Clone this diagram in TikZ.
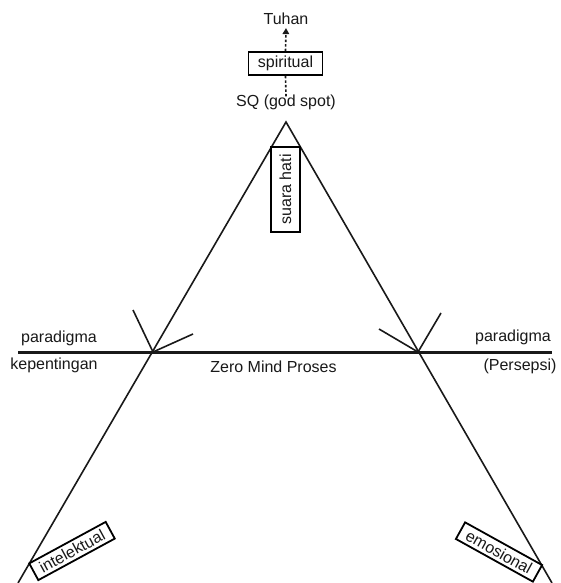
\documentclass[tikz,border=0pt]{standalone}
\usepackage{fontspec}
\setmainfont{Liberation Sans}
\usetikzlibrary{arrows.meta}
\begin{document}
\begin{tikzpicture}[x=1pt,y=-1pt,
  lbl/.style={font=\fontsize{16}{18}\selectfont, inner sep=0pt, text=black!90},
  boxed/.style={lbl, draw=black, line width=1.8pt, minimum height=22, inner sep=0pt},
  tri/.style={line width=1.6pt, black!90},
  thick line/.style={line width=3pt, black!90},
  dash line/.style={line width=1.6pt, dash pattern=on 2.5pt off 2pt, black!90}]
\useasboundingbox (0,0) rectangle (561,583);
\fill[white] (0,0) rectangle (561,583);
% coordinates
\coordinate (apex) at (286,122);
\coordinate (BL) at (18,583);
\coordinate (BR) at (552,583);
\coordinate (L) at (153,352);
\coordinate (R) at (418,352);
\coordinate (HL) at (18,352);
\coordinate (HR) at (552,352);
\coordinate (Lt1) at (133,310);
\coordinate (Lt2) at (193,334);
\coordinate (Rt1) at (379,329);
\coordinate (Rt2) at (441,313);
% triangle
\draw[tri] (BL) -- (apex) -- (BR);
\draw[thick line] (HL) -- (HR);
\draw[tri] (L) -- (Lt1);
\draw[tri] (L) -- (Lt2);
\draw[tri] (R) -- (Rt1);
\draw[tri] (R) -- (Rt2);
% top
\node[lbl] (tuhan) at (286,19) {Tuhan};
\node[boxed, minimum width=74, minimum height=23] (spir) at (285.5,63.5) {spiritual};
\node[lbl] (sq) at (286,102) {SQ (god spot)};
\draw[dash line, -{Triangle[length=6pt,width=6.5pt]}] (spir.north) -- ([yshift=-3pt]tuhan.south);
\draw[dash line] (spir.south) -- ([yshift=-2pt]sq.north);
\node[boxed, minimum width=85, minimum height=29, rotate=90] (suara) at (285.5,189.5) {suara hati};
% side labels
\node[lbl] (parL) at (59,338) {paradigma};
\node[lbl] (kep) at (54,365) {kepentingan};
\node[lbl] (zero) at (273.5,367) {Zero Mind Proses};
\node[lbl] (parR) at (513,337) {paradigma};
\node[lbl] (pers) at (520,366) {(Persepsi)};
% bottom boxes
\node[boxed, minimum width=87, minimum height=19, rotate=28.5] (intel) at (72,551) {intelektual};
\node[boxed, minimum width=88, minimum height=19, rotate=-29] (emo) at (499,552) {emosional};
\end{tikzpicture}
\end{document}
